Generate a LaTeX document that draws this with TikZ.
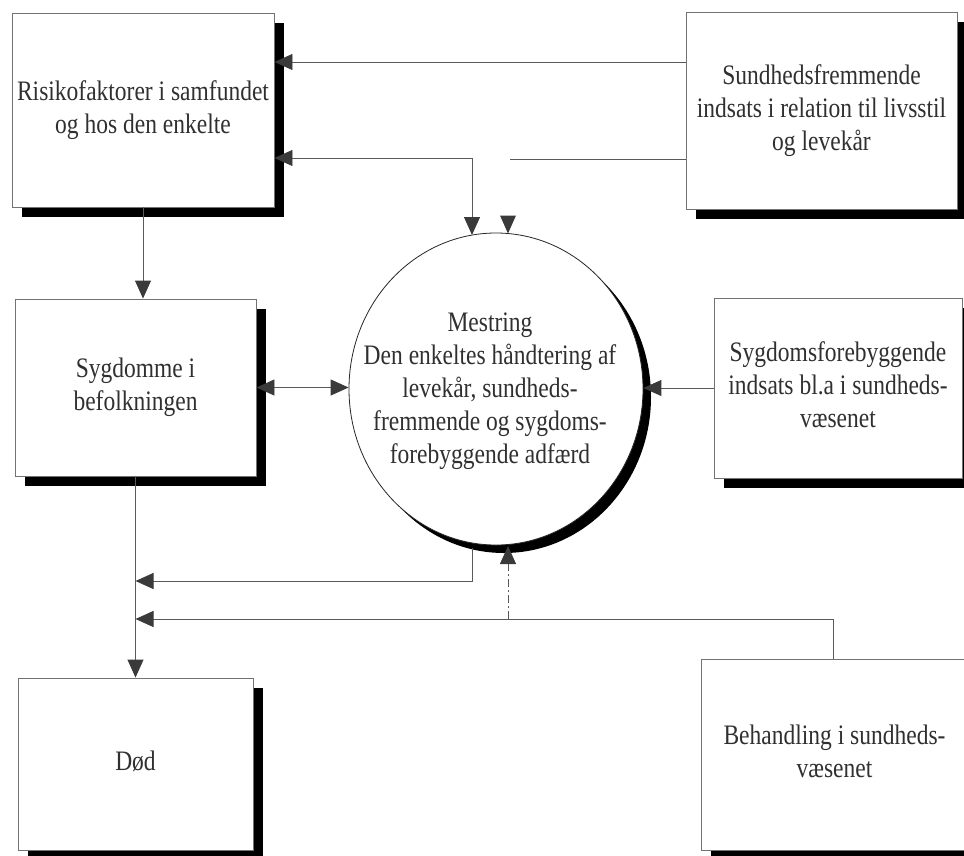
\documentclass[tikz,border=0pt]{standalone}
\usepackage{fontspec}
\setmainfont{Liberation Serif}
\usetikzlibrary{arrows.meta,shadows,shapes.geometric}
\definecolor{ln}{HTML}{5A5A5A}
\definecolor{hd}{HTML}{3A3A3A}
\definecolor{tx}{HTML}{303030}
\newcommand\vtext[1]{\scalebox{1}[1.2]{\begin{tabular}{@{}c@{}}#1\end{tabular}}}
\begin{document}
\begin{tikzpicture}[x=1pt,y=-1pt,
  txt/.style={text=tx, inner sep=0pt, font=\fontsize{23.5}{27.5}\selectfont},
  box/.style={txt, draw=ln!85, line width=0.9pt, fill=white,
    general shadow={fill=black, shadow xshift=10pt, shadow yshift=-10pt}},
  circ/.style={ellipse, draw=black!85, line width=0.8pt, fill=white, inner sep=0pt,
    minimum width=294, minimum height=312,
    general shadow={fill=black, shadow xshift=8pt, shadow yshift=-8pt}},
  conn/.style={draw=ln, line width=0.9pt},
  arr/.style={conn, -{Triangle[length=18pt,width=16pt,color=hd]}},
  arrb/.style={conn, {Triangle[length=18pt,width=16pt,color=hd]}-{Triangle[length=18pt,width=16pt,color=hd]}}]
\useasboundingbox (0,0) rectangle (964,855);
\clip (0,0) rectangle (964,855);

% boxes
\node[box, minimum width=262, minimum height=194] (r) at (143,110)
  {\vtext{Risikofaktorer i samfundet\\og hos den enkelte}};
\node[box, minimum width=271, minimum height=197] (b2) at (821.5,110.5)
  {\vtext{Sundhedsfremmende\\indsats i relation til livsstil\\og levekår}};
\node[box, minimum width=241, minimum height=177] (s) at (135.5,387.5)
  {\vtext{Sygdomme i\\befolkningen}};
\node[box, minimum width=248, minimum height=180] (b4) at (838,388)
  {\vtext{Sygdomsforebyggende\\indsats bl.a i sundheds-\\væsenet}};
\node[box, minimum width=235, minimum height=172] (d) at (135.5,764)
  {\vtext{Død}};
\node[box, minimum width=267, minimum height=191] (b6) at (834.5,754.5)
  {\vtext{Behandling i sundheds-\\væsenet}};
\node[circ] (m) at (496,389) {};
\node[txt] (mtext) at (490,391)
  {\vtext{Mestring\\Den enkeltes håndtering af\\levekår, sundheds-\\fremmende og sygdoms-\\forebyggende adfærd}};

% helper coordinates
\coordinate (y62) at (0,62);
\coordinate (y158) at (0,158);
\coordinate (mt) at (472,235);
\coordinate (k) at (510,159);
\coordinate (mt2) at (508,233.5);
\coordinate (mb) at (472,548);
\coordinate (h1) at (0,581);
\coordinate (h2) at (0,619);
\coordinate (bx) at (833,0);
\coordinate (v) at (508,619);
\coordinate (mb2) at (508,546);

% connectors
\draw[arr] (b2.west |- y62) -- (r.east |- y62);
\draw[arrb] (r.east |- y158) -| (mt);
\draw[conn] (b2.west |- k) -- (k);
\fill[hd] (mt2) -- ++(-8,-18) -- ++(16,0) -- cycle;
\draw[arr] (r.south) -- (r.south |- s.north);
\draw[arrb] (s.east) -- (s.east -| m.west);
\draw[arr] (b4.west) -- (b4.west -| m.east);
\draw[arr] (s.south) -- (d.north);
\draw[arr] (mb) |- (s.south |- h1);
\draw[arr] (b6.north -| bx) |- (s.south |- h2);
\draw[arr, dash pattern=on 8pt off 3pt on 2pt off 3pt] (v) -- (mb2);
\end{tikzpicture}
\end{document}
